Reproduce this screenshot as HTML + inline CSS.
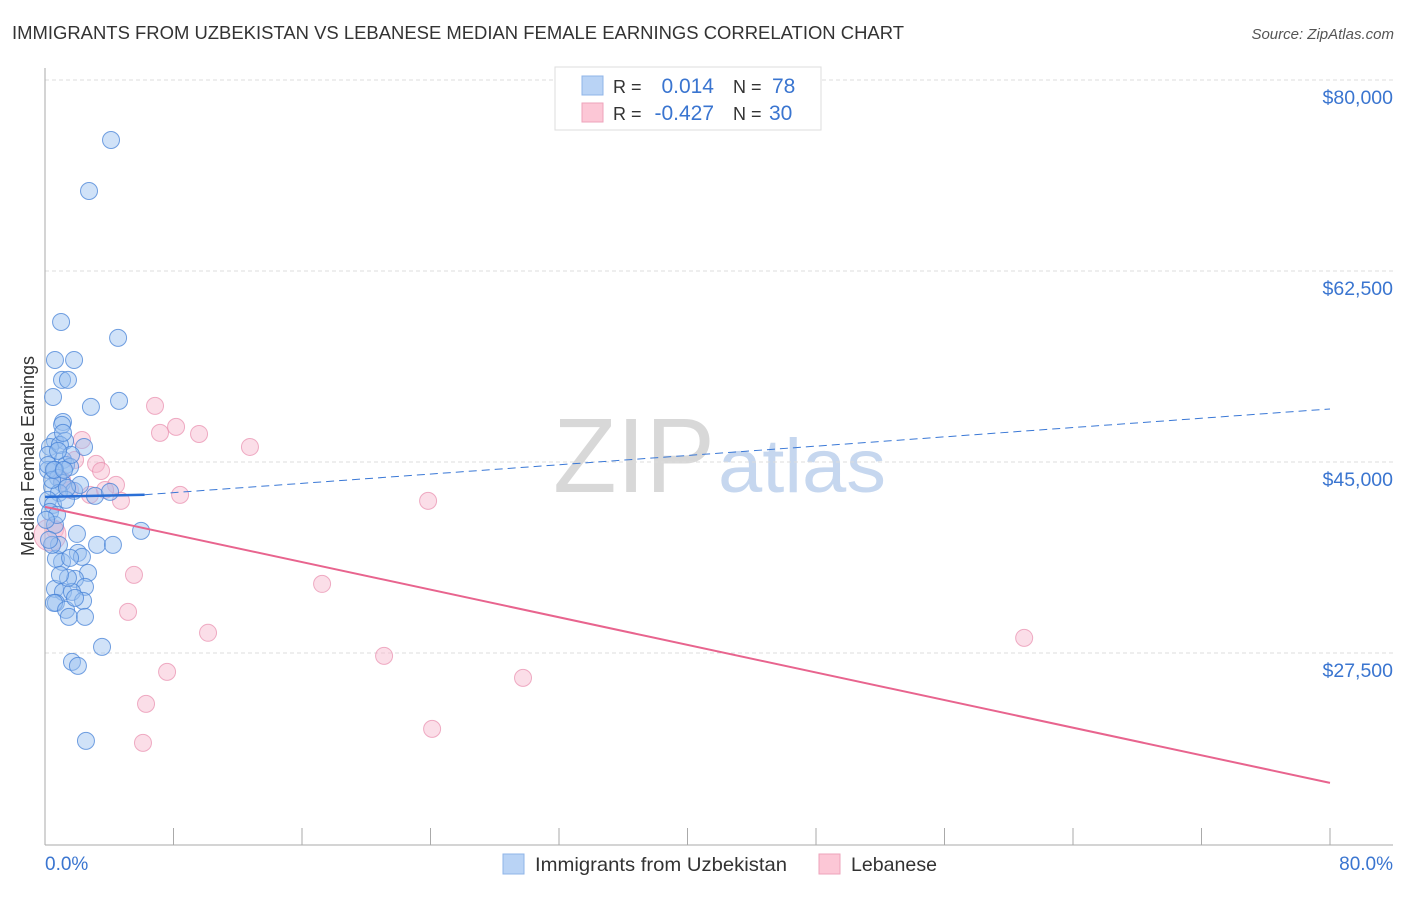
<!DOCTYPE html>
<html><head><meta charset="utf-8"><style>
body{margin:0;background:#fff;font-family:"Liberation Sans",sans-serif;}
svg text{font-family:"Liberation Sans",sans-serif;}
</style></head><body>
<svg width="1406" height="892" viewBox="0 0 1406 892">
<text x="12" y="39" font-size="18" fill="#333" textLength="892" lengthAdjust="spacingAndGlyphs">IMMIGRANTS FROM UZBEKISTAN VS LEBANESE MEDIAN FEMALE EARNINGS CORRELATION CHART</text>
<text x="1394" y="39" font-size="15" fill="#555" font-style="italic" text-anchor="end">Source: ZipAtlas.com</text>
<g>
<text x="553" y="492" font-size="106" fill="#d8d8d8" font-family="Liberation Serif" textLength="162" lengthAdjust="spacingAndGlyphs">ZIP</text>
<text x="718" y="492" font-size="76" fill="#c6d7ef" textLength="168" lengthAdjust="spacingAndGlyphs">atlas</text>
</g>
<g id="grid"></g>
<g id="axes"></g>
<g id="marks"></g>
<text transform="translate(34,456) rotate(-90)" font-size="18" fill="#333" text-anchor="middle">Median Female Earnings</text>
<text x="45" y="870" font-size="19" fill="#3a75d0">0.0%</text>
<text x="1393" y="870" font-size="19" fill="#3a75d0" text-anchor="end">80.0%</text>
<g>
<rect x="555" y="67" width="266" height="63" fill="#fff" stroke="#ddd"/>
<rect x="582" y="76" width="21" height="19" fill="#b9d3f5" stroke="#8fb5e8"/>
<rect x="582" y="103" width="21" height="19" fill="#fcc7d6" stroke="#eea3bb"/>
<text x="613" y="93" font-size="18" fill="#333">R =</text>
<text x="714" y="93" font-size="21" fill="#3a75d0" text-anchor="end">0.014</text>
<text x="733" y="93" font-size="18" fill="#333">N =</text>
<text x="772" y="93" font-size="21" fill="#3a75d0">78</text>
<text x="613" y="120" font-size="18" fill="#333">R =</text>
<text x="714" y="120" font-size="21" fill="#3a75d0" text-anchor="end">-0.427</text>
<text x="733" y="120" font-size="18" fill="#333">N =</text>
<text x="769" y="120" font-size="21" fill="#3a75d0">30</text>
</g>
<g>
<rect x="503" y="854" width="21" height="20" fill="#b9d3f5" stroke="#8fb5e8"/>
<text x="535" y="871" font-size="19.5" fill="#333" textLength="252" lengthAdjust="spacingAndGlyphs">Immigrants from Uzbekistan</text>
<rect x="819" y="854" width="21" height="20" fill="#fcc7d6" stroke="#eea3bb"/>
<text x="851" y="871" font-size="19.5" fill="#333" textLength="86" lengthAdjust="spacingAndGlyphs">Lebanese</text>
</g>
</svg>
<script>
const yTicks=[80000,62500,45000,27500];
const yTickLabels=["$80,000","$62,500","$45,000","$27,500"];
const xTicks=[0,8,16,24,32,40,48,56,64,72,80];
const blueX=[4.11,2.74,1.0,4.55,0.62,1.81,1.06,1.43,0.5,2.86,4.61,1.12,1.06,0.62,1.25,2.43,0.31,0.19,1.12,1.31,1.56,0.62,0.19,0.81,1.06,0.44,1.81,3.11,4.05,0.87,0.19,0.5,0.31,0.62,5.98,1.99,3.24,4.23,2.05,2.3,1.06,0.68,1.56,2.68,1.87,2.49,0.62,1.12,1.68,2.37,0.68,0.56,1.31,1.49,2.49,3.55,1.68,2.05,2.55,0.19,0.44,0.93,1.31,0.75,0.06,1.62,2.18,1.12,0.56,0.81,1.37,0.87,0.44,1.43,0.93,1.87,0.25,1.18];
const blueY=[74500,69830,57830,56370,54350,54350,52520,52520,50960,50050,50600,48670,48400,46930,46930,46380,46380,45650,45190,44730,44550,44280,44280,43550,43090,42720,42350,41900,42260,42170,41530,41070,40430,39240,38690,38410,37410,37410,36670,36310,35850,36120,36210,34840,34290,33560,33380,33100,33100,32280,32090,32090,31450,30810,30810,28060,26690,26320,19450,44730,43360,46570,41530,40150,39700,45650,42900,47670,44280,46020,42630,37410,37410,34380,34660,32550,37870,44280];
const pinkX=[6.85,7.16,8.16,9.59,12.76,2.3,3.18,3.49,4.42,4.73,8.41,23.85,5.54,5.17,10.15,17.25,21.11,7.6,29.76,6.29,24.1,6.1,60.96,1.06,1.56,0.62,2.8,1.87,3.74,0.31];
const pinkY=[50140,47670,48220,47570,46380,47020,44830,44180,42900,41440,41990,41440,34660,31270,29350,33830,27240,25770,25220,22840,20550,19270,28890,43360,42440,38780,41990,45190,42440,38320];
const blueTrendX=[0,6.2,80];
const blueTrendY=[41800,42000,49860];
const pinkTrendX=[0,80];
const pinkTrendY=[40890,15600];

const NS="http://www.w3.org/2000/svg";
function xs(p){return 45+(p/80)*1285;}
function ys(v){return 80+(80000-v)*(191/17500);}
function mk(tag,attrs,parent){const e=document.createElementNS(NS,tag);for(const k in attrs)e.setAttribute(k,attrs[k]);document.getElementById(parent).appendChild(e);return e;}

yTicks.forEach((v,i)=>{
  const g=mk('line',{x1:45,x2:1393,y1:ys(v),y2:ys(v),stroke:'#dcdcdc','stroke-dasharray':'4,3'},'grid');
  
  
  const t=mk('text',{x:1393,y:ys(v)+24,'font-size':19.5,fill:'#3a75d0','text-anchor':'end'},'grid');
  t.textContent=yTickLabels[i];
  
  
});
const ax=mk('line',{x1:45,x2:45,y1:68,y2:845,stroke:'#aaa'},'axes');


const bx=mk('line',{x1:45,x2:1393,y1:845,y2:845,stroke:'#aaa'},'axes');


xTicks.forEach(p=>{
  const t=mk('line',{x1:xs(p),x2:xs(p),y1:828,y2:845,stroke:'#aaa'},'axes');
  
  
});

pinkX.forEach((p,i)=>{
  const c=mk('circle',{cx:xs(p),cy:ys(pinkY[i]),r:i===pinkX.length-1?16:8.5,fill:'rgba(247,182,204,0.45)',stroke:'rgba(232,140,172,0.7)','stroke-width':1},'marks');
  
  
});
blueX.forEach((p,i)=>{
  const c=mk('circle',{cx:xs(p),cy:ys(blueY[i]),r:8.5,fill:'rgba(150,190,240,0.45)',stroke:'rgba(70,130,215,0.75)','stroke-width':1},'marks');
  
  
});
const bs=mk('line',{x1:xs(blueTrendX[0]),y1:ys(blueTrendY[0]),x2:xs(blueTrendX[1]),y2:ys(blueTrendY[1]),stroke:'#2a6fd6','stroke-width':2.5},'marks');


const bd=mk('line',{x1:xs(blueTrendX[1]),y1:ys(blueTrendY[1]),x2:xs(blueTrendX[2]),y2:ys(blueTrendY[2]),stroke:'#3a78d6','stroke-width':1,'stroke-dasharray':'8,5'},'marks');


const pl=mk('line',{x1:xs(pinkTrendX[0]),y1:ys(pinkTrendY[0]),x2:xs(pinkTrendX[1]),y2:ys(pinkTrendY[1]),stroke:'#e8648e','stroke-width':2},'marks');


</script>
</body></html>
